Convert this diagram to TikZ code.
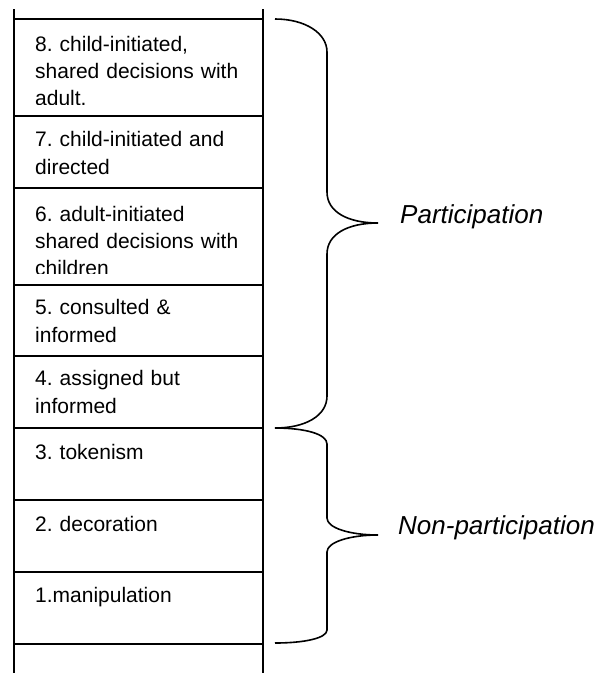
\documentclass[tikz,border=0pt]{standalone}
\usepackage{fontspec}
\setmainfont{Liberation Sans}
\frenchspacing
\begin{document}
\begin{tikzpicture}[x=1pt,y=-1pt,
  rail/.style={line width=2pt},
  rung/.style={line width=2pt},
  bracestyle/.style={line width=1.6pt},
  rungtext/.style={anchor=north west, inner sep=0pt, text width=235pt, align=left,
    font=\fontsize{21}{27.3}\selectfont\frenchspacing},
  grouplabel/.style={anchor=base west, inner sep=0pt, font=\fontsize{26}{30}\selectfont\itshape}]
\useasboundingbox (0,0) rectangle (600,673);
% rails
\draw[rail] (14,9) -- (14,673);
\draw[rail] (263,9) -- (263,673);
% rungs
\foreach \y in {19,116,188,284.5,355.5,428,500,572,643.5}
  \draw[rung] (14,\y) -- (263,\y);
% rung texts (clipped to the text area of each box)
\begin{scope}
  \clip (15,20) rectangle (262,104.2);
  \node[rungtext] (r8) at (35,31.9) {\strut 8. child-initiated,\\shared decisions with\\adult.};
\end{scope}
\node[rungtext] (r7) at (35,127.6) {\strut 7. child-initiated and\\directed};
\begin{scope}
  \clip (15,189) rectangle (262,273.2);
  \node[rungtext] (r6) at (35,201.9) {\strut 6. adult-initiated\\shared decisions with\\children};
\end{scope}
\node[rungtext] (r5) at (35,295.6) {\strut 5. consulted \&\\informed};
\node[rungtext] (r4) at (35,366.6) {\strut 4. assigned but\\informed};
\node[rungtext] (r3) at (35,439.9) {\strut 3. tokenism};
\node[rungtext] (r2) at (35,511.9) {\strut 2. decoration};
\node[rungtext] (r1) at (35,583.6) {\strut 1.manipulation};
% braces
\coordinate (pTop) at (275,19);
\coordinate (pTip) at (378,223);
\coordinate (mid) at (275,428);
\coordinate (nTip) at (378,535);
\coordinate (nBot) at (275,643);
\draw[bracestyle] (pTop) .. controls (305,19) and (327,33) .. (327,52) -- (327,192)
  .. controls (327,212) and (348,223) .. (pTip)
  .. controls (348,223) and (327,234) .. (327,254) -- (327,396)
  .. controls (327,416) and (305,428) .. (mid);
\draw[bracestyle] (mid) .. controls (305,428) and (327,434) .. (327,444) -- (327,518)
  .. controls (327,528) and (350,535) .. (nTip)
  .. controls (350,535) and (327,542) .. (327,552) -- (327,630)
  .. controls (327,638) and (305,643) .. (nBot);
% group labels
\node[grouplabel] (part) at (400,223) {Participation};
\node[grouplabel] (nonpart) at (398,534) {Non-participation};
\end{tikzpicture}
\end{document}
